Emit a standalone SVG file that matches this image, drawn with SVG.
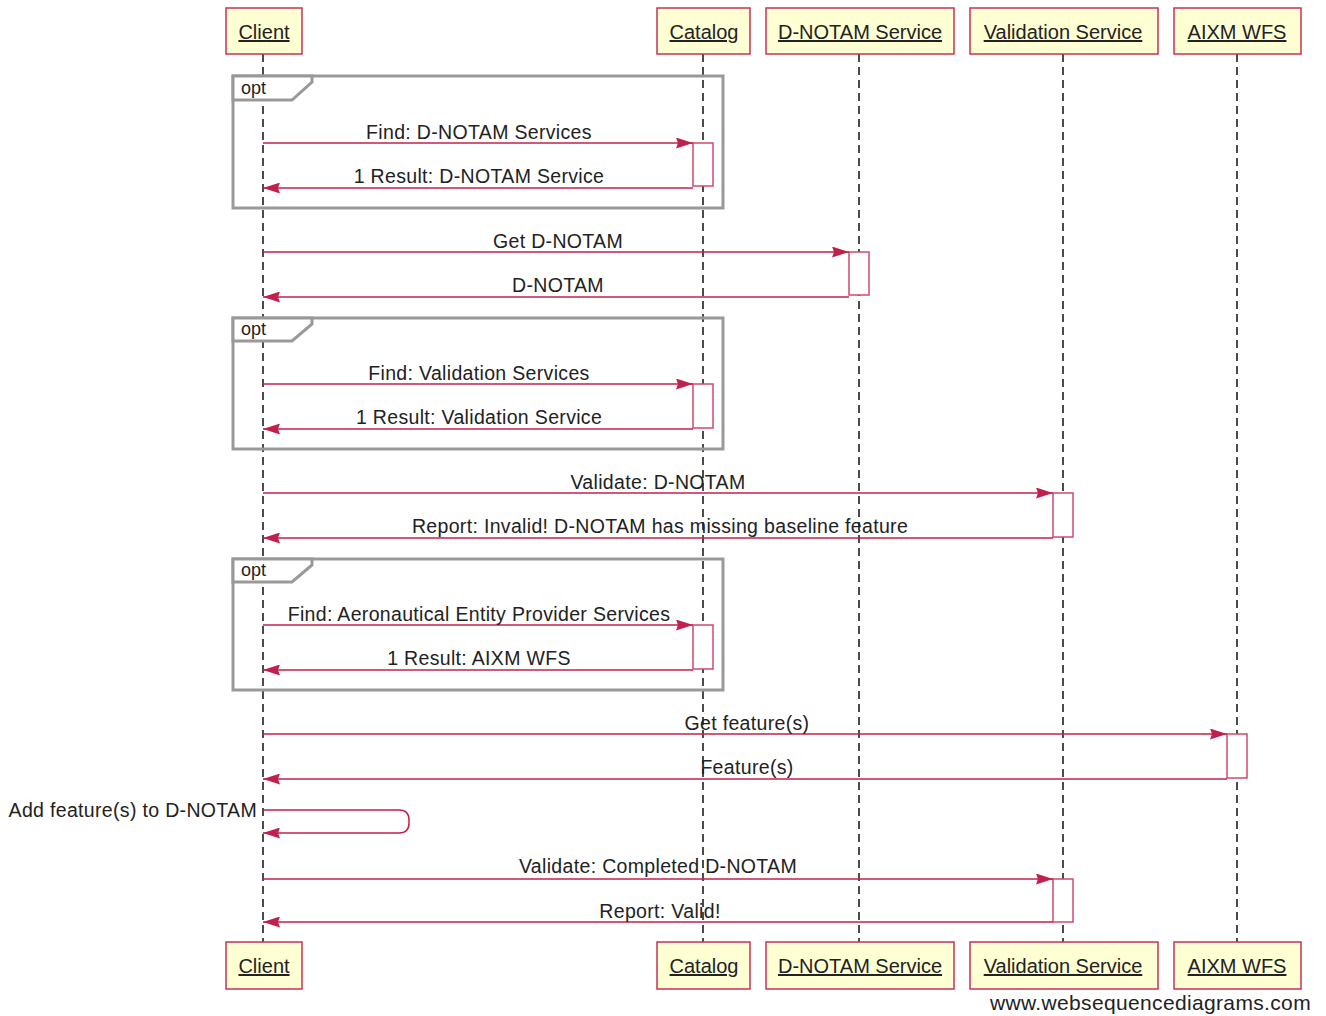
<svg xmlns="http://www.w3.org/2000/svg" width="1326" height="1016" viewBox="0 0 1326 1016">
<defs>
<style>
text{font-family:"Liberation Sans",Arial,sans-serif;fill:#222}
.pbox{fill:#ffffd4;stroke:#c8305a;stroke-width:1.5}
.pname{font-size:20px;text-decoration:underline;text-anchor:middle}
.life{stroke:#111;stroke-width:1.5;stroke-dasharray:8,5}
.frame{fill:none;stroke:#999;stroke-width:3}
.tab{fill:#fff;stroke:#999;stroke-width:3}
.optl{font-size:18px}
.msg{stroke:#c2204c;stroke-width:1.5;fill:none}
.lbl{font-size:19.5px;text-anchor:middle;letter-spacing:0.33px}
.act{fill:#fff;stroke:#cf4a6e;stroke-width:1.5}
</style>
<marker id="ah" viewBox="0 0 17 11" refX="17" refY="5.5" markerWidth="17" markerHeight="11" markerUnits="userSpaceOnUse" orient="auto">
<path d="M0,0 L17,5.5 L0,11 L2,5.5 Z" fill="#c2204c"/>
</marker>
</defs>
<rect width="1326" height="1016" fill="#fff"/>

<g id="lifelines">
<line class="life" x1="263" y1="54" x2="263" y2="942"/>
<line class="life" x1="703" y1="54" x2="703" y2="942"/>
<line class="life" x1="859" y1="54" x2="859" y2="942"/>
<line class="life" x1="1063" y1="54" x2="1063" y2="942"/>
<line class="life" x1="1237" y1="54" x2="1237" y2="942"/>
</g>

<g id="opt1">
<rect class="frame" x="233" y="76" width="490" height="132"/>
<path class="tab" d="M233,76 L312,76 L312,82 L292,100 L233,100 Z"/>
<text class="optl" x="241" y="94">opt</text>
</g>
<g id="opt2">
<rect class="frame" x="233" y="318" width="490" height="131"/>
<path class="tab" d="M233,318 L312,318 L312,324 L292,341 L233,341 Z"/>
<text class="optl" x="241" y="335">opt</text>
</g>
<g id="opt3">
<rect class="frame" x="233" y="559" width="490" height="131"/>
<path class="tab" d="M233,559 L312,559 L312,565 L292,582 L233,582 Z"/>
<text class="optl" x="241" y="576">opt</text>
</g>

<g id="activations">
<rect class="act" x="693" y="143" width="20" height="43"/>
<rect class="act" x="849" y="252" width="20" height="43"/>
<rect class="act" x="693" y="384" width="20" height="44"/>
<rect class="act" x="1053" y="493" width="20" height="44"/>
<rect class="act" x="693" y="625" width="20" height="44"/>
<rect class="act" x="1227" y="734" width="20" height="44"/>
<rect class="act" x="1053" y="879" width="20" height="43"/>
</g>

<g id="connectors">
<line class="msg" x1="263" y1="143" x2="693" y2="143" marker-end="url(#ah)"/>
<line class="msg" x1="693" y1="188" x2="263" y2="188" marker-end="url(#ah)"/>
<line class="msg" x1="263" y1="252" x2="849" y2="252" marker-end="url(#ah)"/>
<line class="msg" x1="849" y1="297" x2="263" y2="297" marker-end="url(#ah)"/>
<line class="msg" x1="263" y1="384" x2="693" y2="384" marker-end="url(#ah)"/>
<line class="msg" x1="693" y1="429" x2="263" y2="429" marker-end="url(#ah)"/>
<line class="msg" x1="263" y1="493" x2="1053" y2="493" marker-end="url(#ah)"/>
<line class="msg" x1="1053" y1="538" x2="263" y2="538" marker-end="url(#ah)"/>
<line class="msg" x1="263" y1="625" x2="693" y2="625" marker-end="url(#ah)"/>
<line class="msg" x1="693" y1="670" x2="263" y2="670" marker-end="url(#ah)"/>
<line class="msg" x1="263" y1="734" x2="1227" y2="734" marker-end="url(#ah)"/>
<line class="msg" x1="1227" y1="779" x2="263" y2="779" marker-end="url(#ah)"/>
<path class="msg" d="M263,810 L399,810 Q409,810 409,820 L409,823 Q409,833 399,833 L263,833" marker-end="url(#ah)"/>
<line class="msg" x1="263" y1="879" x2="1053" y2="879" marker-end="url(#ah)"/>
<line class="msg" x1="1053" y1="922" x2="263" y2="922" marker-end="url(#ah)"/>
</g>

<g id="labels">
<text class="lbl" x="479" y="139">Find: D-NOTAM Services</text>
<text class="lbl" x="479" y="183">1 Result: D-NOTAM Service</text>
<text class="lbl" x="558" y="248">Get D-NOTAM</text>
<text class="lbl" x="558" y="292">D-NOTAM</text>
<text class="lbl" x="479" y="380">Find: Validation Services</text>
<text class="lbl" x="479" y="424">1 Result: Validation Service</text>
<text class="lbl" x="658" y="489">Validate: D-NOTAM</text>
<text class="lbl" x="660" y="533">Report: Invalid! D-NOTAM has missing baseline feature</text>
<text class="lbl" x="479" y="621">Find: Aeronautical Entity Provider Services</text>
<text class="lbl" x="479" y="665">1 Result: AIXM WFS</text>
<text class="lbl" x="747" y="730">Get feature(s)</text>
<text class="lbl" x="747" y="774">Feature(s)</text>
<text class="lbl" x="257" y="817" style="text-anchor:end">Add feature(s) to D-NOTAM</text>
<text class="lbl" x="658" y="873">Validate: Completed D-NOTAM</text>
<text class="lbl" x="660" y="918">Report: Valid!</text>
</g>

<g id="p-client">
<rect class="pbox" x="226" y="8" width="76" height="46"/>
<text class="pname" x="264" y="39">Client</text>
<rect class="pbox" x="226" y="942" width="76" height="47"/>
<text class="pname" x="264" y="973">Client</text>
</g>
<g id="p-catalog">
<rect class="pbox" x="657" y="8" width="93" height="46"/>
<text class="pname" x="704" y="39">Catalog</text>
<rect class="pbox" x="657" y="942" width="93" height="47"/>
<text class="pname" x="704" y="973">Catalog</text>
</g>
<g id="p-dnotam">
<rect class="pbox" x="766" y="8" width="188" height="46"/>
<text class="pname" x="860" y="39">D-NOTAM Service</text>
<rect class="pbox" x="766" y="942" width="188" height="47"/>
<text class="pname" x="860" y="973">D-NOTAM Service</text>
</g>
<g id="p-validation">
<rect class="pbox" x="970" y="8" width="188" height="46"/>
<text class="pname" x="1063" y="39">Validation Service</text>
<rect class="pbox" x="970" y="942" width="188" height="47"/>
<text class="pname" x="1063" y="973">Validation Service</text>
</g>
<g id="p-aixm">
<rect class="pbox" x="1174" y="8" width="127" height="46"/>
<text class="pname" x="1237" y="39">AIXM WFS</text>
<rect class="pbox" x="1174" y="942" width="127" height="47"/>
<text class="pname" x="1237" y="973">AIXM WFS</text>
</g>

<text x="1311" y="1010" style="font-size:21px;text-anchor:end;letter-spacing:0.35px">www.websequencediagrams.com</text>
</svg>
